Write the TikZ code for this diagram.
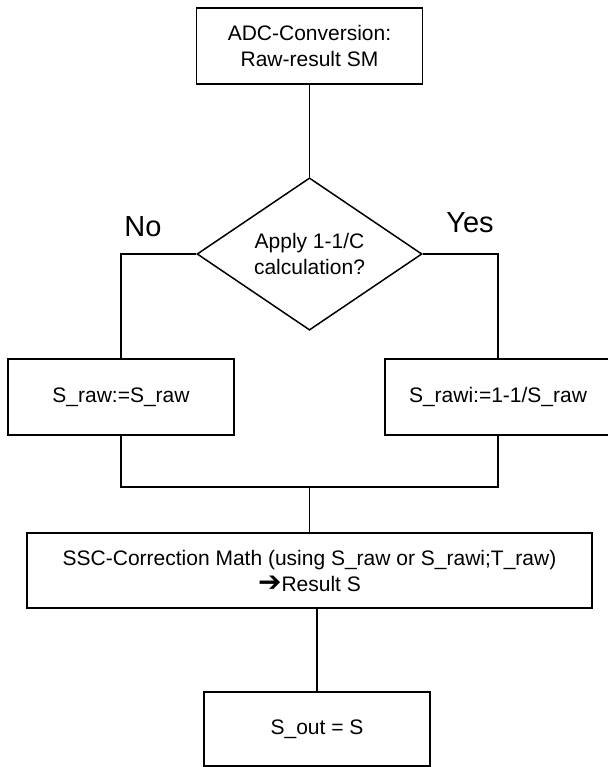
\documentclass[tikz,border=0pt]{standalone}
\usepackage{fontspec}
\setmainfont{Liberation Sans}
\newfontfamily\symfont{DejaVu Sans}
\usetikzlibrary{shapes.geometric}
\begin{document}
\begin{tikzpicture}[x=1pt,y=-1pt,line width=1.5pt,
				every node/.style={font=\fontsize{21}{26}\selectfont,align=center},
				box/.style={draw,rectangle,minimum width=226pt,minimum height=76pt,inner sep=0pt},
				decision/.style={draw,diamond,minimum width=225pt,minimum height=150pt,inner sep=0pt},
				answer/.style={font=\fontsize{29}{34}\selectfont}]
\useasboundingbox (0,0) rectangle (607,767);
\node[box] (adc) at (309.5,46) {ADC-Conversion:\\Raw-result SM};
\node[decision] (dec) at (309.5,254) {Apply 1-1/C\\calculation?};
\node[answer] (no) at (143,227) {No};
\node[answer] (yes) at (470,223) {Yes};
\node[box] (raw) at (121,397) {S\_raw:=S\_raw};
\node[box] (rawi) at (498,397) {S\_rawi:=1-1/S\_raw};
\coordinate (join) at (309.5,487);
\node[box,minimum width=565pt,minimum height=75pt] (ssc) at (309.5,570.5)
	{SSC-Correction Math (using S\_raw or S\_rawi;T\_raw)\\{\symfont\fontsize{28}{26}\selectfont ➔}Result S};
\node[box,minimum height=74pt] (out) at (317,729) {S\_out = S};
\draw (adc) -- (dec);
\draw (dec.west) -| (raw);
\draw (dec.east) -| (rawi);
\draw (raw) |- (join) -| (rawi);
\draw (join) -- (ssc);
\draw (out.north |- ssc.south) -- (out);
\end{tikzpicture}
\end{document}
